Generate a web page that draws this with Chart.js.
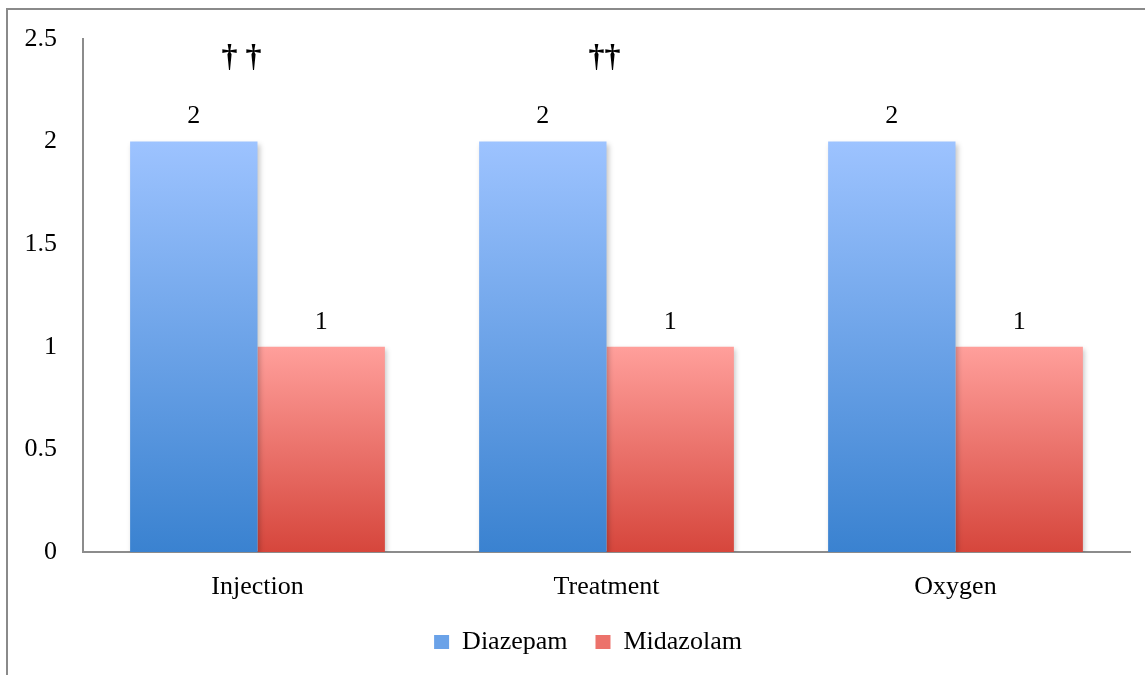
<!DOCTYPE html>
<html>
<head>
<meta charset="utf-8">
<script src="https://cdn.jsdelivr.net/npm/chart.js@4/dist/chart.umd.min.js"></script>
<style>
  html, body { margin: 0; padding: 0; background: #fff; }
  #wrap { position: relative; width: 1145px; height: 675px; }
</style>
</head>
<body>
<div id="wrap"><canvas id="myChart" width="1145" height="675"></canvas></div>
<script>
// data
const categories = ['Injection', 'Treatment', 'Oxygen'];
const diazepam = [2, 2, 2];
const midazolam = [1, 1, 1];
const marks = ['† †', '††', '']; // significance marks above groups
const yTicks = [0, 0.5, 1, 1.5, 2, 2.5];

const FONT = 'Liberation Serif';
const FSIZE = 26;

// gradient for every bar, from its top down to zero
function barGradient(top, bottom) {
    return function (context) {
        const chart = context.chart;
        const area = chart.chartArea;
        if (!area || context.parsed === undefined) return top;
        const y = chart.scales.y;
        const yTop = y.getPixelForValue(context.parsed.y);
        const yBot = y.getPixelForValue(0);
        const g = chart.ctx.createLinearGradient(0, yTop, 0, yBot);
        g.addColorStop(0, top);
        g.addColorStop(1, bottom);
        return g;
    };
}

const framePlugin = {
    id: 'frame',
    beforeDraw(chart) {
        const ctx = chart.ctx;
        ctx.save();
        ctx.strokeStyle = '#8a8a8a';
        ctx.lineWidth = 2;
        ctx.beginPath();
        ctx.moveTo(7, 675);
        ctx.lineTo(7, 9);
        ctx.lineTo(1145, 9);
        ctx.stroke();
        ctx.restore();
    }
};

// legend sits a bit right of the plot centre in the original
const legendShift = {
    id: 'legendShift',
    afterLayout(chart) {
        chart.legend.left += 23;
        chart.legend.right += 23;
    }
};

const shadowPlugin = {
    id: 'barShadow',
    beforeDatasetsDraw(chart) {
        const ctx = chart.ctx;
        ctx.save();
        ctx.shadowColor = 'rgba(0,0,0,0.22)';
        ctx.shadowBlur = 5;
        ctx.shadowOffsetX = 2;
        ctx.shadowOffsetY = 2;
    },
    afterDatasetsDraw(chart) {
        chart.ctx.restore();
    }
};

const labelPlugin = {
    id: 'valueLabels',
    afterDatasetsDraw(chart) {
        const ctx = chart.ctx;
        ctx.save();
        ctx.fillStyle = '#000';
        ctx.textAlign = 'center';
        ctx.textBaseline = 'middle';
        ctx.font = FSIZE + 'px "' + FONT + '"';
        chart.data.datasets.forEach((ds, i) => {
            chart.getDatasetMeta(i).data.forEach((bar, j) => {
                ctx.fillText(ds.data[j], bar.x, bar.y - 25);
            });
        });
        // daggers
        ctx.font = 'bold 32px "' + FONT + '"';
        const y = chart.scales.y.getPixelForValue(2.41);
        marks.forEach((m, j) => {
            if (!m) return;
            const x = chart.scales.x.getPixelForValue(j);
            ctx.fillText(m, x - (j === 0 ? 16 : 2), y);
        });
        ctx.restore();
    }
};

const ctx = document.getElementById('myChart').getContext('2d');
const barChart = new Chart(ctx, {
    type: 'bar',
    data: {
        labels: categories,
        datasets: [
            {
                label: 'Diazepam',
                data: diazepam,
                backgroundColor: barGradient('#9dc3ff', '#3a82d0'),
                categoryPercentage: 0.73,
                barPercentage: 1,
            },
            {
                label: 'Midazolam',
                data: midazolam,
                backgroundColor: barGradient('#ff9f9b', '#d6463c'),
                categoryPercentage: 0.73,
                barPercentage: 1,
            },
        ],
    },
    options: {
        responsive: false,
        animation: false,
        layout: { padding: { left: 0, right: 15, top: 39, bottom: 10 } },
        plugins: {
            tooltip: { enabled: false },
            legend: {
                position: 'bottom',
                labels: {
                    color: '#000',
                    font: { family: FONT, size: FSIZE },
                    boxWidth: 15,
                    boxHeight: 14,
                    padding: 28,
                    generateLabels(chart) {
                        const fills = ['#6aa2e8', '#ec726b'];
                        return chart.data.datasets.map((ds, i) => ({
                            text: ds.label,
                            fillStyle: fills[i],
                            strokeStyle: fills[i],
                            lineWidth: 0,
                            datasetIndex: i,
                        }));
                    }
                }
            }
        },
        scales: {
            x: {
                grid: { display: false, drawTicks: false },
                border: { display: true, color: '#8c8c8c', width: 2 },
                ticks: { color: '#000', font: { family: FONT, size: FSIZE }, padding: 20 },
                afterFit(s) { s.height = 49; }
            },
            y: {
                min: 0,
                max: 2.5,
                grid: { display: false, drawTicks: false },
                border: { display: true, color: '#8c8c8c', width: 2 },
                afterBuildTicks(s) { s.ticks = yTicks.map(v => ({ value: v })); },
                ticks: {
                    color: '#000',
                    font: { family: FONT, size: FSIZE, lineHeight: 1 },
                    padding: 26,
                    callback: (v) => String(v)
                },
                afterFit(s) { s.width = 83; }
            }
        }
    },
    plugins: [framePlugin, legendShift, shadowPlugin, labelPlugin]
});
</script>
</body>
</html>
